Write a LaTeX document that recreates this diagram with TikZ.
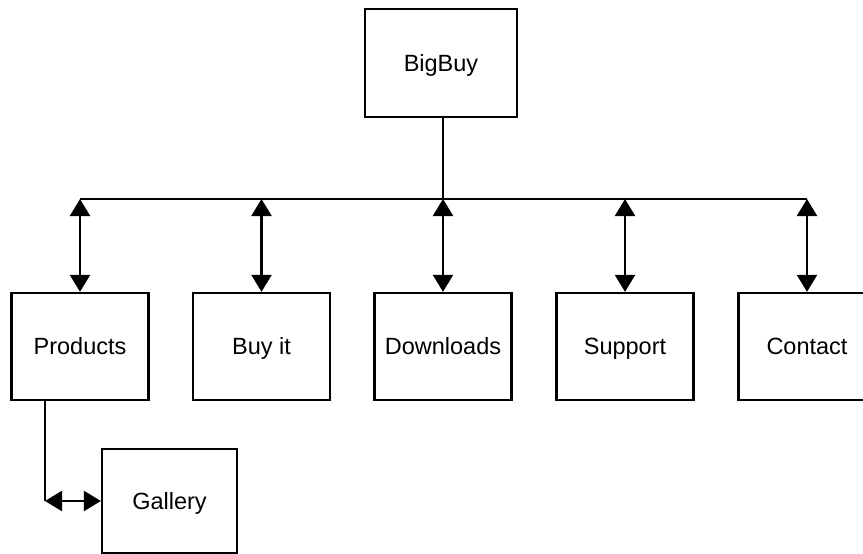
\documentclass[tikz,border=0pt]{standalone}
\usepackage{fontspec}
\setmainfont{Liberation Sans}
\usetikzlibrary{arrows.meta}

\tikzset{
    page/.style={box/.style={draw, line width=2.3pt, minimum width=137pt, minimum height=107pt,
        inner sep=0pt, text height=16.9pt, text depth=0pt, font=\fontsize{23.5}{28}\selectfont}},
    wire/.style={line width=2.3pt},
    dbl/.style={wire, {Triangle[length=17pt, width=20pt]}-{Triangle[length=17pt, width=20pt]}}
}

\begin{document}
\begin{tikzpicture}[x=1pt, y=-1pt, page]
    \useasboundingbox (0, 0) rectangle (863, 554);
    \clip (0, 0) rectangle (863, 554);

    \node[box, minimum width=152pt, minimum height=108pt] (bigbuy) at (441, 63) {BigBuy};

    \node[box] (products) at (80, 346.5) {Products};
    \node[box] (buyit) at (261.5, 346.5) {Buy it};
    \node[box] (downloads) at (443, 346.5) {Downloads};
    \node[box] (support) at (625, 346.5) {Support};
    \node[box] (contact) at (807, 346.5) {Contact};

    \node[box, minimum width=135pt, minimum height=104pt] (gallery) at (169.5, 501) {Gallery};

    % bus under the top box
    \coordinate (bus) at (443, 199);
    \draw[wire] (bigbuy.south -| bus) -- (bus);
    \draw[wire] (products.north |- bus) -- (contact.north |- bus);

    \foreach \n in {products, buyit, downloads, support, contact}
        \draw[dbl] (\n.north |- bus) -- (\n.north);

    % products to gallery
    \coordinate (turn) at (45, 501);
    \draw[wire] (products.south -| turn) -- (turn);
    \draw[dbl] (turn) -- (gallery.west);
\end{tikzpicture}
\end{document}
